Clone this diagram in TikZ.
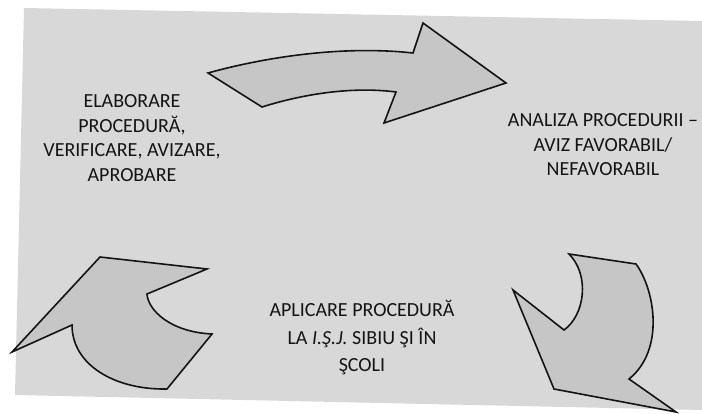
\documentclass[tikz,border=0pt]{standalone}
\usepackage{fontspec}
\setmainfont{Carlito}
\usepackage{tikz}
\usepackage{xcolor}
\definecolor{paper}{RGB}{216,216,216}
\definecolor{arrowfill}{RGB}{198,198,198}
\definecolor{ink}{RGB}{20,20,20}

\begin{document}
\begin{tikzpicture}[x=1pt, y=-1pt,
    bigarrow/.style={fill=arrowfill, draw=ink, line width=1.6pt, line join=miter},
    steplabel/.style={font=\fontsize{20}{24.5}\selectfont, text=ink, align=center}]
    \useasboundingbox (0,0) rectangle (702,414);
    \fill[paper] (24,8) -- (702,21) -- (702,410) -- (15,395) -- cycle;
    \draw[bigarrow] (208,73) .. controls (262,58) and (340,45) .. (413,53)
      -- (423,23) -- (506,83) -- (384,123) -- (396,92)
      .. controls (350,86) and (300,95) .. (262,107) -- cycle;
    \draw[bigarrow] (569,254) -- (636,264)
      .. controls (655,290) and (665,350) .. (629,379)
      -- (676,412) -- (554,389) -- (513,290) -- (564,330)
      .. controls (585,315) and (590,275) .. (569,254) -- cycle;
    \draw[bigarrow] (100,257) -- (207,269) -- (147,294)
      .. controls (148,310) and (170,332) .. (212,334)
      -- (167,389) .. controls (115,390) and (72,365) .. (72,325)
      -- (12,352) -- cycle;
    \node[steplabel] (elaborare) at (132,138)
      {ELABORARE\\PROCEDURĂ,\\VERIFICARE, AVIZARE,\\APROBARE};
    \node[steplabel] (analiza) at (603,145)
      {ANALIZA PROCEDURII –\\AVIZ FAVORABIL/\\NEFAVORABIL};
    \node[steplabel, font=\fontsize{20}{27.5}\selectfont] (aplicare) at (362,338)
      {APLICARE PROCEDURĂ\\LA \textit{I.Ş.J.} SIBIU ŞI ÎN\\ŞCOLI};
  \end{tikzpicture}
\end{document}
